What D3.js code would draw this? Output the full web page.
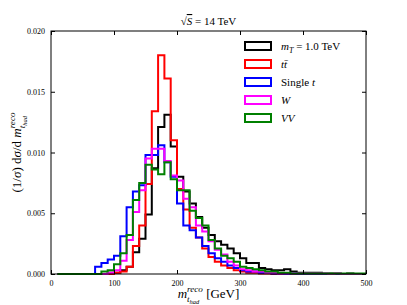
<!DOCTYPE html>
<html>
<head>
<meta charset="utf-8">
<script src="https://cdn.jsdelivr.net/npm/d3@7"></script>
<style>
  body { margin: 0; background: #fff; }
  text { font-family: "Liberation Serif", "DejaVu Serif", serif; fill: #000; }
</style>
</head>
<body>
<div id="chart"></div>
<script>
// bin left edges (GeV), each bin is 10 GeV wide
var binEdges = [10, 20, 30, 40, 50, 60, 70, 80, 90, 100, 110, 120, 130, 140, 150, 160, 170, 180, 190, 200,
  210, 220, 230, 240, 250, 260, 270, 280, 290, 300, 310, 320, 330, 340, 350, 360, 370, 380, 390, 400,
  410, 420, 430, 440, 450, 460, 470, 480, 490];
var binWidth = 10;

// normalised counts
var signal = [0, 0, 0, 0, 0, 0, 0, 0, 0.0001, 0.0001, 0.0003, 0.0006, 0.0018, 0.0029, 0.0049, 0.0087, 0.0121, 0.0131, 0.0105, 0.0080,
  0.0068, 0.0058, 0.0047, 0.0038, 0.0032, 0.0027, 0.0024, 0.0021, 0.0017, 0.0013, 0.0009, 0.0009, 0.0005, 0.0004, 0.0003, 0.0003, 0.0004, 0.0002, 0.0001, 0.0001,
  0.0001, 0.0001, 0.00005, 0.00005, 0.00005, 0, 0.00005, 0, 0];
var ttbar = [0, 0, 0, 0, 0, 0, 0, 0, 0, 0.0001, 0.0002, 0.0006, 0.0023, 0.0040, 0.0074, 0.0134, 0.0180, 0.0161, 0.0110, 0.0070,
  0.0053, 0.0038, 0.0030, 0.0021, 0.0014, 0.0010, 0.0007, 0.0005, 0.0003, 0.0002, 0.0001, 0.0001, 0.00005, 0.00005, 0, 0, 0, 0, 0, 0,
  0, 0, 0, 0, 0, 0, 0, 0, 0];
var singleTop = [0, 0, 0, 0, 0, 0, 0.0006, 0.0009, 0.0012, 0.0015, 0.0031, 0.0055, 0.0068, 0.0073, 0.0098, 0.0098, 0.0106, 0.0092, 0.0080, 0.0058,
  0.0040, 0.0036, 0.0030, 0.0023, 0.0017, 0.0013, 0.0010, 0.0007, 0.0005, 0.0003, 0.0002, 0.0002, 0.0001, 0.0001, 0.00005, 0.00005, 0, 0.00005, 0, 0,
  0, 0, 0, 0, 0, 0, 0, 0, 0];
var wjets = [0, 0, 0, 0, 0, 0, 0, 0, 0.0001, 0.0003, 0.0011, 0.0028, 0.0051, 0.0069, 0.0095, 0.0103, 0.0103, 0.0093, 0.0081, 0.0077,
  0.0062, 0.0055, 0.0040, 0.0035, 0.0027, 0.0020, 0.0016, 0.0010, 0.0007, 0.0004, 0.0003, 0.0002, 0.0002, 0.0001, 0.0001, 0.00005, 0.00005, 0.00005, 0.00005, 0.00005,
  0.00005, 0.00005, 0.00005, 0, 0.00005, 0, 0, 0, 0];
var diboson = [0, 0, 0, 0, 0, 0, 0, 0.0002, 0.0003, 0.0008, 0.0017, 0.0032, 0.0061, 0.0075, 0.0090, 0.0086, 0.0082, 0.0092, 0.0078, 0.0069,
  0.0069, 0.0052, 0.0046, 0.0040, 0.0028, 0.0021, 0.0015, 0.0013, 0.0010, 0.0006, 0.0005, 0.0004, 0.0003, 0.0002, 0.0002, 0.0001, 0.0001, 0.00005, 0.00005, 0.00005,
  0.00005, 0.00005, 0.00005, 0.00005, 0.00005, 0.00005, 0.00005, 0.00005, 0.00005];

var seriesNames = ["signal", "ttbar", "single", "w", "vv"];
var seriesColors = ["#000000", "#ff0000", "#0000ff", "#ff00ff", "#008000"];
var seriesData = [signal, ttbar, singleTop, wjets, diboson];

var xTicks = [0, 100, 200, 300, 400, 500];
var yTicks = [0, 0.005, 0.010, 0.015, 0.020];

var width = 407;
var height = 305;
var margin = { left: 51, right: 41, top: 31, bottom: 31 };

var svg = d3.select("#chart").append("svg")
  .attr("width", width)
  .attr("height", height);

var xScale = d3.scaleLinear().domain([0, 500]).range([margin.left, width - margin.right]);
var yScale = d3.scaleLinear().domain([0, 0.020]).range([height - margin.bottom, margin.top]);

// histogram outlines (step style)
var line = d3.line()
  .x(function(d) { return xScale(d[0]); })
  .y(function(d) { return yScale(d[1]); })
  .curve(d3.curveStepAfter);

seriesData.forEach(function(vals, i) {
  var pts = [[binEdges[0], 0]];
  vals.forEach(function(v, j) { pts.push([binEdges[j], v]); });
  pts.push([binEdges[binEdges.length - 1] + binWidth, vals[vals.length - 1]]);
  pts.push([binEdges[binEdges.length - 1] + binWidth, 0]);
  svg.append("path")
    .attr("class", "hist " + seriesNames[i])
    .attr("d", line(pts))
    .attr("fill", "none")
    .attr("stroke", seriesColors[i])
    .attr("stroke-width", 2)
    .attr("stroke-linejoin", "miter");
});

// axes (ticks inside, on all four sides)
var tickLen = 4;
var xAxisB = d3.axisBottom(xScale).tickValues(xTicks).tickSizeInner(-tickLen).tickSizeOuter(0).tickPadding(6)
  .tickFormat(d3.format("d"));
var xAxisT = d3.axisTop(xScale).tickValues(xTicks).tickSizeInner(-tickLen).tickSizeOuter(0).tickFormat("");
var yAxisL = d3.axisLeft(yScale).tickValues(yTicks).tickSizeInner(-tickLen).tickSizeOuter(0).tickPadding(6)
  .tickFormat(d3.format(".3f"));
var yAxisR = d3.axisRight(yScale).tickValues(yTicks).tickSizeInner(-tickLen).tickSizeOuter(0).tickFormat("");

function styleAxis(g) {
  g.select(".domain").remove();
  g.selectAll(".tick line").attr("stroke", "#000").attr("stroke-width", 1);
  g.selectAll(".tick text").attr("font-size", 8).attr("font-family", "Liberation Serif").attr("fill", "#222");
}

svg.append("g").attr("transform", "translate(0," + yScale(0) + ")").call(xAxisB).call(styleAxis);
svg.append("g").attr("transform", "translate(0," + yScale(0.020) + ")").call(xAxisT).call(styleAxis);
svg.append("g").attr("transform", "translate(" + xScale(0) + ",0)").call(yAxisL).call(styleAxis);
svg.append("g").attr("transform", "translate(" + xScale(500) + ",0)").call(yAxisR).call(styleAxis);

// frame
svg.append("rect")
  .attr("x", xScale(0))
  .attr("y", yScale(0.020))
  .attr("width", xScale(500) - xScale(0))
  .attr("height", yScale(0) - yScale(0.020))
  .attr("fill", "none")
  .attr("stroke", "#000")
  .attr("stroke-width", 1);

// plain tspan helper
function span(sel, txt, italic, size, dy, dx) {
  return sel.append("tspan")
    .attr("font-style", italic ? "italic" : "normal")
    .attr("font-size", size)
    .attr("dy", dy || 0)
    .attr("dx", dx || 0)
    .text(txt);
}

// m^{reco}_{t_had}: superscript and subscript stacked, returns net dy
function mRecoTHad(sel, size) {
  var s = size * 0.7, ss = size * 0.5;
  span(sel, "m", true, size);
  var sup = span(sel, "reco", true, s, -size * 0.45);
  var supW = sup.node().getComputedTextLength();
  var sub1 = span(sel, "t", true, s, size * 0.75, -supW);
  var sub2 = span(sel, "had", true, ss, size * 0.15);
  var subW = sub1.node().getComputedTextLength() + sub2.node().getComputedTextLength();
  return { dy: -(size * 0.45), dx: Math.max(0, supW - subW) };
}

// title
var title = svg.append("text")
  .attr("x", (xScale(0) + xScale(500)) / 2)
  .attr("y", 25)
  .attr("text-anchor", "middle")
  .attr("font-size", 11);
span(title, "\u221A", false, 11);
span(title, "S", true, 11).style("text-decoration", "overline");
span(title, " = 14 TeV", false, 11);

// x label
var xLab = svg.append("text")
  .attr("x", (xScale(0) + xScale(500)) / 2)
  .attr("y", 298)
  .attr("text-anchor", "middle");
var xm = mRecoTHad(xLab, 13);
span(xLab, " [GeV]", false, 13, xm.dy, xm.dx);

// y label
var yLab = svg.append("text")
  .attr("transform", "translate(21," + ((yScale(0) + yScale(0.020)) / 2) + ")rotate(-90)")
  .attr("text-anchor", "middle");
span(yLab, "(1/", false, 13);
span(yLab, "\u03C3", true, 13);
span(yLab, ") d", false, 13);
span(yLab, "\u03C3", true, 13);
span(yLab, "/d ", false, 13);
mRecoTHad(yLab, 13);

// legend
var legendY = [46, 64, 82, 100, 118];
var legendText = [];
seriesColors.forEach(function(c, i) {
  svg.append("rect")
    .attr("x", 245)
    .attr("y", legendY[i] - 4)
    .attr("width", 26)
    .attr("height", 8)
    .attr("fill", "none")
    .attr("stroke", c)
    .attr("stroke-width", 2);
  legendText.push(svg.append("text")
    .attr("x", 281)
    .attr("y", legendY[i] + 4)
    .attr("font-size", 11));
});
span(legendText[0], "m", true, 11);
span(legendText[0], "T", true, 8, 3);
span(legendText[0], " = 1.0 TeV", false, 11, -3);
span(legendText[1], "t", true, 11);
span(legendText[1], "t\u0304", true, 11);
span(legendText[2], "Single ", false, 11);
span(legendText[2], "t", true, 11);
span(legendText[3], "W", true, 11);
span(legendText[4], "VV", true, 11);
</script>
</body>
</html>
